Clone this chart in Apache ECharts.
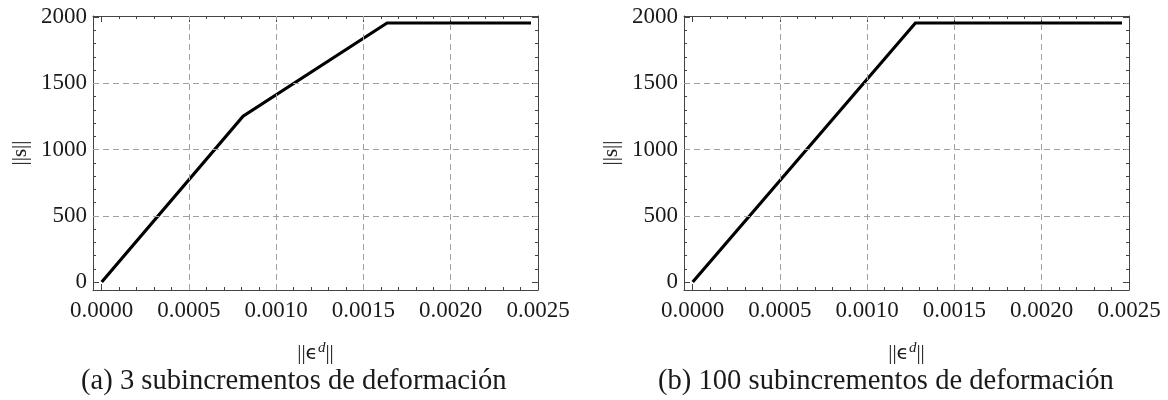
<!DOCTYPE html>
<html>
<head>
<meta charset="utf-8">
<title>||s|| vs ||ϵd||</title>
<script src="https://cdn.jsdelivr.net/npm/echarts@6/dist/echarts.min.js"></script>
<style>
  html, body { margin: 0; padding: 0; background: #ffffff; }
  #chart { width: 1168px; height: 400px; }
</style>
</head>
<body>
<div id="chart"></div>
<script>
// Stress norm vs deviatoric strain norm, two sub-increment settings
const strainA = [0, 0.00081, 0.001635, 0.00246];
const stressA = [0, 1252, 1955, 1955];
const strainB = [0, 0.001276, 0.00246];
const stressB = [0, 1955, 1955];

const captionA = '(a) 3 subincrementos de deformación';
const captionB = '(b) 100 subincrementos de deformación';

const xMajorTicks = [0, 0.0005, 0.0010, 0.0015, 0.0020, 0.0025];
const yMajorTicks = [0, 500, 1000, 1500, 2000];
const xGridValues = [0.0005, 0.0010, 0.0015, 0.0020];
const yGridValues = [500, 1000, 1500];

const xMin = -0.00005, xMax = 0.0025;
const yMin = -60, yMax = 2008;

// minor ticks every 0.0001 on x and every 100 on y
const xMinorTicks = [];
for (let i = 0; i <= 25; i++) if (i % 5 !== 0) xMinorTicks.push(i / 10000);
const yMinorTicks = [];
for (let i = 0; i <= 20; i++) if (i % 5 !== 0) yMinorTicks.push(i * 100);

const serif = '"Liberation Serif", "Times New Roman", serif';
const frameColor = '#444';
const textColor = '#1a1a1a';

const grids = [
  { left: 93, top: 16, width: 445, height: 274 },
  { left: 684, top: 16, width: 445, height: 274 }
];

const xAxes = [];
const yAxes = [];
const series = [];

function zip(xs, ys) { return xs.map((x, i) => [x, ys[i]]); }

function tickAxis(base, gi, position, values, len, showLine) {
  return Object.assign({
    type: 'value', gridIndex: gi, position: position,
    axisLine: { show: showLine, onZero: false, lineStyle: { color: frameColor, width: 1 } },
    axisTick: { show: true, inside: true, length: len, customValues: values,
                lineStyle: { color: frameColor, width: 1 } },
    axisLabel: { show: false },
    splitLine: { show: false }
  }, base);
}

[[strainA, stressA], [strainB, stressB]].forEach(([xs, ys], gi) => {
  const xb = { min: xMin, max: xMax };
  const yb = { min: yMin, max: yMax };
  const xMain = xAxes.length;
  // bottom axis with labels
  xAxes.push(Object.assign(tickAxis(xb, gi, 'bottom', xMajorTicks, 6, true), {
    axisLabel: {
      show: true, customValues: xMajorTicks, margin: 9,
      formatter: v => v.toFixed(4),
      fontFamily: serif, fontSize: 23, color: textColor
    },
    name: '||{e|ϵ}{s|d}||', nameLocation: 'middle', nameGap: 51,
    nameTextStyle: {
      fontFamily: serif, fontSize: 21, color: textColor,
      rich: {
        e: { fontFamily: '"DejaVu Sans", sans-serif', fontSize: 20, color: textColor },
        s: { fontFamily: serif, fontStyle: 'italic', fontSize: 15, color: textColor,
             verticalAlign: 'top', padding: [0, 0, 10, 0] }
      }
    }
  }));
  xAxes.push(tickAxis(xb, gi, 'bottom', xMinorTicks, 3, false));
  xAxes.push(tickAxis(xb, gi, 'top', xMajorTicks, 6, true));
  xAxes.push(tickAxis(xb, gi, 'top', xMinorTicks, 3, false));

  const yMain = yAxes.length;
  yAxes.push(Object.assign(tickAxis(yb, gi, 'left', yMajorTicks, 6, true), {
    axisLabel: {
      show: true, customValues: yMajorTicks, margin: 6,
      formatter: v => String(v),
      fontFamily: serif, fontSize: 23, color: textColor
    },
    name: '||s||', nameLocation: 'middle', nameGap: 62, nameRotate: 90,
    nameTextStyle: { fontFamily: serif, fontSize: 21, color: textColor }
  }));
  yAxes.push(tickAxis(yb, gi, 'left', yMinorTicks, 3, false));
  yAxes.push(tickAxis(yb, gi, 'right', yMajorTicks, 6, true));
  yAxes.push(tickAxis(yb, gi, 'right', yMinorTicks, 3, false));

  // dashed grid lines (carrier series is invisible; only its mark lines show)
  series.push({
    type: 'line', xAxisIndex: xMain, yAxisIndex: yMain, z: 1,
    data: zip(xs, ys), showSymbol: false, symbol: 'none', silent: true,
    lineStyle: { opacity: 0 },
    markLine: {
      silent: true, symbol: 'none', label: { show: false }, precision: 8,
      lineStyle: { color: '#a0a0a0', type: [6, 4], width: 1 },
      emphasis: { disabled: true },
      data: xGridValues.map(v => ({ xAxis: v })).concat(yGridValues.map(v => ({ yAxis: v })))
    }
  });
  // stress curve
  series.push({
    type: 'line', xAxisIndex: xMain, yAxisIndex: yMain, z: 3,
    data: zip(xs, ys), showSymbol: false, symbol: 'none',
    lineStyle: { color: '#000', width: 3.2, join: 'miter' }
  });
});

const chart = echarts.init(document.getElementById('chart'), null, { renderer: 'canvas' });
chart.setOption({
  animation: false,
  backgroundColor: '#ffffff',
  grid: grids,
  xAxis: xAxes,
  yAxis: yAxes,
  series: series,
  graphic: [
    { type: 'text', left: 81, top: 367,
      style: { text: captionA, fontFamily: serif, fontSize: 28.6, fill: textColor } },
    { type: 'text', left: 658, top: 367,
      style: { text: captionB, fontFamily: serif, fontSize: 28.6, fill: textColor } }
  ]
});
</script>
</body>
</html>
